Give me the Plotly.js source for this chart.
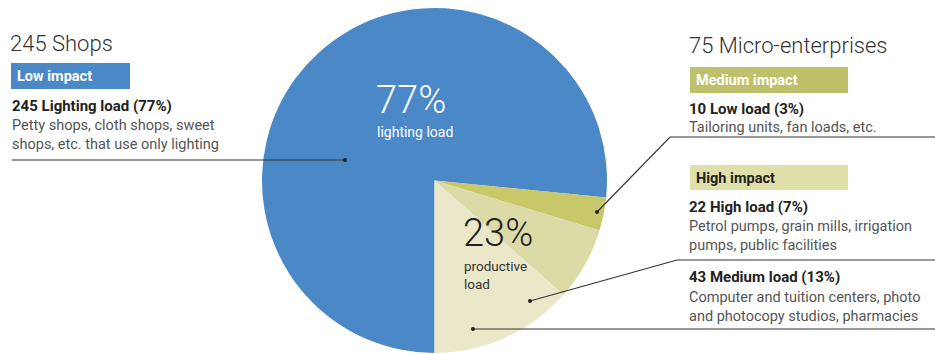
<!DOCTYPE html>
<html>
<head>
<meta charset="utf-8">
<script src="https://cdn.plot.ly/plotly-3.0.1.min.js"></script>
<style>html,body{margin:0;padding:0;background:#fff;}#chart{width:935px;height:354px;}</style>
</head>
<body>
<div id="chart"></div>
<script>
// Data
const sliceLabels = ["Lighting load", "Low load", "High load", "Medium load"];
const sliceCounts = [245, 10, 22, 43];
const slicePercents = ["77%", "3%", "7%", "13%"];
const sliceColors = ["#4a88c8", "#c8c76a", "#dcdba8", "#ebe8ca"];

const groupTitles = ["245 Shops", "75 Micro-enterprises"];
const impactLabels = ["Low impact", "Medium impact", "High impact"];
const itemHeads = ["245 Lighting load (77%)", "10 Low load (3%)", "22 High load (7%)", "43 Medium load (13%)"];
const itemDescs = [
  ["Petty shops, cloth shops, sweet", "shops, etc. that use only lighting"],
  ["Tailoring units, fan loads, etc."],
  ["Petrol pumps, grain mills, irrigation", "pumps, public facilities"],
  ["Computer and tuition centers, photo", "and photocopy studios, pharmacies"]
];
const bigLabels = [["77%", "lighting load"], ["23%", "productive<br>load"]];

const W = 935, H = 354;
const px = x => x / W;
const py = y => 1 - y / H;
const FONT = "Roboto, 'Noto Sans', sans-serif";

const annotations = [];
const shapes = [];
function txt(x, y, text, size, color, weight, extra) {
  annotations.push(Object.assign({
    xref: "paper", yref: "paper", x: px(x), y: py(y), text: text,
    xanchor: "left", yanchor: "middle", showarrow: false, align: "left",
    font: {family: FONT, size: size, color: color, weight: weight || 400}
  }, extra || {}));
}
function rect(x0, y0, x1, y1, color) {
  shapes.push({type: "rect", xref: "paper", yref: "paper", x0: px(x0), x1: px(x1), y0: py(y1), y1: py(y0),
    fillcolor: color, line: {width: 0}, layer: "below"});
}
function line(pts) {
  let d = "M" + pts.map(p => px(p[0]) + "," + py(p[1])).join(" L");
  shapes.push({type: "path", xref: "paper", yref: "paper", path: d, line: {color: "#333", width: 1.2}});
}
function dot(x, y) {
  const r = 2;
  shapes.push({type: "circle", xref: "paper", yref: "paper", x0: px(x - r), x1: px(x + r), y0: py(y + r), y1: py(y - r),
    fillcolor: "#222", line: {width: 0}});
}

const BODY = 14.5, HEAD = 15;
// Left block
txt(8, 43, groupTitles[0], 22, "#333", 300);
rect(11, 63, 130, 89, sliceColors[0]);
txt(15, 76, impactLabels[0], 14.5, "#ffffff", 700);
txt(10, 106, itemHeads[0], HEAD, "#222", 700);
txt(10, 126, itemDescs[0][0], BODY, "#555", 400);
txt(10, 145, itemDescs[0][1], BODY, "#555", 400);
line([[12, 160], [345, 160]]); dot(345, 160);

// Right block
txt(687, 45, groupTitles[1], 22, "#333", 300);
rect(690, 67, 848, 93, "#bfc06a");
txt(694, 80, impactLabels[1], 14.5, "#ffffff", 700);
txt(687, 109, itemHeads[1], HEAD, "#222", 700);
txt(687, 127, itemDescs[1][0], BODY, "#555", 400);
line([[935, 137], [670, 137], [597, 212]]); dot(597, 212);

rect(690, 165, 848, 190, "#dfe0a9");
txt(694, 178, impactLabels[2], 14.5, "#222", 700);
txt(687, 207, itemHeads[2], HEAD, "#222", 700);
txt(687, 226, itemDescs[2][0], BODY, "#555", 400);
txt(687, 245, itemDescs[2][1], BODY, "#555", 400);
line([[935, 260], [677, 260], [530, 301]]); dot(530, 301);

txt(687, 277, itemHeads[3], HEAD, "#222", 700);
txt(687, 297, itemDescs[3][0], BODY, "#555", 400);
txt(687, 316, itemDescs[3][1], BODY, "#555", 400);
line([[935, 329], [473, 329]]); dot(473, 329);

// Labels inside pie
txt(374, 100, bigLabels[0][0], 38, "#ffffff", 300);
txt(375, 132, bigLabels[0][1], 14, "#ffffff", 400);
txt(461, 233, bigLabels[1][0], 38, "#222", 300);
txt(462, 256, bigLabels[1][1], 13.5, "#333", 400, {yanchor: "top"});

const trace = {
  type: "pie",
  labels: sliceLabels,
  values: sliceCounts,
  text: slicePercents,
  sort: false,
  direction: "clockwise",
  rotation: 180,
  textinfo: "none",
  hoverinfo: "none",
  marker: {colors: sliceColors, line: {width: 0}},
  domain: {x: [px(262), px(607)], y: [py(353), py(8)]},
  showlegend: false
};

Plotly.newPlot("chart", [trace], {
  width: W, height: H,
  margin: {l: 0, r: 0, t: 0, b: 0},
  paper_bgcolor: "#ffffff",
  showlegend: false,
  annotations: annotations,
  shapes: shapes
}, {staticPlot: true, displayModeBar: false});
</script>
</body>
</html>
